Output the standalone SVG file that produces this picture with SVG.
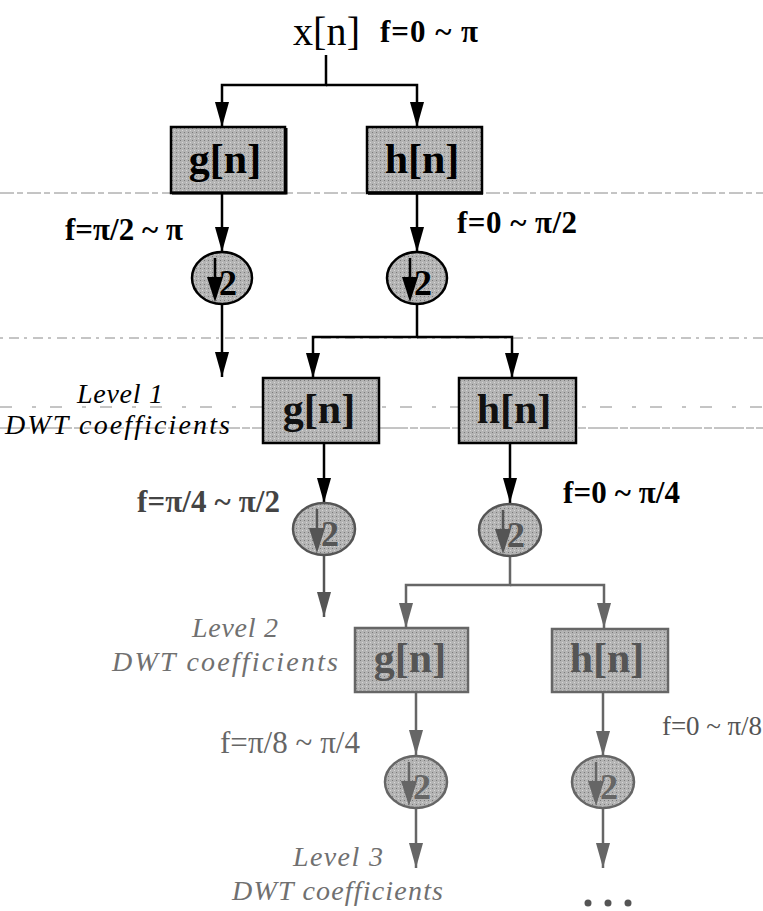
<svg xmlns="http://www.w3.org/2000/svg" width="763" height="911" viewBox="0 0 763 911">
<style>
  .lbl{font-family:"Liberation Serif","Times New Roman",serif;font-size:31px}
  .b{font-weight:bold}
  .it{font-family:"Liberation Serif","Times New Roman",serif;font-style:italic;font-size:28px}
  .boxt{font-family:"Liberation Serif","Times New Roman",serif;font-weight:bold;font-size:42px;text-anchor:middle}
  .two{font-family:"Liberation Serif","Times New Roman",serif;font-weight:bold;font-size:36px}
  .conn{fill:none;stroke-width:2.5}
  .scan{stroke:#8a8a8a;stroke-width:1;fill:none}
</style>
<defs>
  <pattern id="dots" width="4" height="4" patternUnits="userSpaceOnUse">
    <rect width="4" height="4" fill="#b4b4b4"/>
    <rect width="1" height="1" fill="#7a7a7a"/>
    <rect x="2" y="2" width="1" height="1" fill="#d6d6d6"/>
  </pattern>
  <marker id="ah0" viewBox="0 0 25 14" refX="25" refY="7" markerWidth="25" markerHeight="14" markerUnits="userSpaceOnUse" orient="auto">
    <path d="M0,0 L25,7 L0,14 z" fill="#000"/>
  </marker>
  <marker id="ah1" viewBox="0 0 25 14" refX="25" refY="7" markerWidth="25" markerHeight="14" markerUnits="userSpaceOnUse" orient="auto">
    <path d="M0,0 L25,7 L0,14 z" fill="#555"/>
  </marker>
  <marker id="ah2" viewBox="0 0 25 14" refX="25" refY="7" markerWidth="25" markerHeight="14" markerUnits="userSpaceOnUse" orient="auto">
    <path d="M0,0 L25,7 L0,14 z" fill="#666"/>
  </marker>
</defs>
<rect width="763" height="911" fill="#fff"/>

<g id="scan-lines">
  <path class="scan" d="M0,193 H763" stroke-dasharray="14 3 6 4" stroke="#555"/>
  <path class="scan" d="M0,338 H763" stroke-dasharray="3 6 10 5" stroke="#999"/>
  <path class="scan" d="M0,407 H763" stroke-dasharray="12 20 4 14" stroke="#555"/>
  <path class="scan" d="M0,428 H763" stroke-dasharray="30 2 8 2" stroke="#444"/>
</g>

<g id="connectors">
  <path class="conn" stroke="#000" d="M326,55 V85 H222 V127" marker-end="url(#ah0)"/>
  <path class="conn" stroke="#000" d="M326,85 H417 V127" marker-end="url(#ah0)"/>
  <path class="conn" stroke="#000" d="M222,193 V252" marker-end="url(#ah0)"/>
  <path class="conn" stroke="#000" d="M417,193 V252" marker-end="url(#ah0)"/>
  <path class="conn" stroke="#000" d="M222,305 V377" marker-end="url(#ah0)"/>
  <path class="conn" stroke="#000" d="M417,305 V337 H313 V378" marker-end="url(#ah0)"/>
  <path class="conn" stroke="#000" d="M417,337 H512 V378" marker-end="url(#ah0)"/>
  <path class="conn" stroke="#000" d="M324,443 V503" marker-end="url(#ah0)"/>
  <path class="conn" stroke="#000" d="M510,443 V503" marker-end="url(#ah0)"/>
  <path class="conn" stroke="#555" d="M324,555 V617" marker-end="url(#ah1)"/>
  <path class="conn" stroke="#666" d="M510,557 V585 H406 V628" marker-end="url(#ah2)"/>
  <path class="conn" stroke="#666" d="M510,585 H604 V628" marker-end="url(#ah2)"/>
  <path class="conn" stroke="#666" d="M416,692 V755" marker-end="url(#ah2)"/>
  <path class="conn" stroke="#666" d="M603,692 V756" marker-end="url(#ah2)"/>
  <path class="conn" stroke="#666" d="M416,808 V868" marker-end="url(#ah2)"/>
  <path class="conn" stroke="#666" d="M603,808 V868" marker-end="url(#ah2)"/>
</g>

<g id="input">
  <text class="lbl" x="293" y="45" style="font-size:40px" textLength="67">x[n]</text>
  <text class="lbl b" x="380" y="42" textLength="98">f=0 ~ π</text>
</g>

<g id="g0">
  <rect x="171" y="127" width="114" height="66" fill="url(#dots)" stroke="#000" stroke-width="2.5"/>
  <path d="M172,193 H286 V128" fill="none" stroke="#000" stroke-width="3"/>
  <text class="boxt" x="225" y="173" fill="#000">g[n]</text>
</g>
<g id="h0">
  <rect x="367" y="127" width="115" height="66" fill="url(#dots)" stroke="#000" stroke-width="2.5"/>
  <path d="M368,193 H483" fill="none" stroke="#000" stroke-width="3.5"/>
  <text class="boxt" x="422" y="173" fill="#000">h[n]</text>
</g>

<g id="d0g">
  <ellipse cx="222" cy="278" rx="30" ry="26" fill="url(#dots)" stroke="#000" stroke-width="2.5"/>
  <line x1="215" y1="258" x2="215" y2="282" stroke="#000" stroke-width="2.5"/>
  <polygon points="207,277 223,277 215,302" fill="#000"/>
  <text class="two" x="219" y="295" fill="#000">2</text>
</g>
<g id="d0h">
  <ellipse cx="417" cy="278" rx="30" ry="26" fill="url(#dots)" stroke="#000" stroke-width="2.5"/>
  <line x1="410" y1="258" x2="410" y2="282" stroke="#000" stroke-width="2.5"/>
  <polygon points="402,277 418,277 410,302" fill="#000"/>
  <text class="two" x="414" y="295" fill="#000">2</text>
</g>

<g id="labels-1">
  <text class="lbl b" x="65" y="240" textLength="118">f=π/2 ~ π</text>
  <text class="lbl b" x="457" y="233" textLength="120">f=0 ~ π/2</text>
  <text class="it" x="77" y="403" textLength="86">Level 1</text>
  <text class="it" x="5" y="434" textLength="225">DWT coefficients</text>
</g>

<g id="g1">
  <rect x="263" y="378" width="116" height="65" fill="url(#dots)" stroke="#000" stroke-width="2.5"/>
  <text class="boxt" x="319" y="423" fill="#111">g[n]</text>
</g>
<g id="h1">
  <rect x="459" y="378" width="117" height="65" fill="url(#dots)" stroke="#000" stroke-width="2.5"/>
  <text class="boxt" x="514" y="423" fill="#111">h[n]</text>
</g>

<g id="d1g">
  <ellipse cx="324" cy="529" rx="31" ry="26" fill="url(#dots)" stroke="#555" stroke-width="2.5"/>
  <line x1="317" y1="509" x2="317" y2="533" stroke="#555" stroke-width="2.5"/>
  <polygon points="309,528 325,528 317,553" fill="#555"/>
  <text class="two" x="321" y="546" fill="#555">2</text>
</g>
<g id="d1h">
  <ellipse cx="510" cy="530" rx="31" ry="26" fill="url(#dots)" stroke="#555" stroke-width="2.5"/>
  <line x1="503" y1="510" x2="503" y2="534" stroke="#555" stroke-width="2.5"/>
  <polygon points="495,529 511,529 503,554" fill="#555"/>
  <text class="two" x="507" y="547" fill="#555">2</text>
</g>

<g id="labels-2">
  <text class="lbl" x="137" y="512" textLength="143" fill="#444" font-weight="bold">f=π/4 ~ π/2</text>
  <text class="lbl b" x="563" y="503" textLength="117" fill="#000">f=0 ~ π/4</text>
  <text class="it" x="192" y="637" textLength="86" fill="#707070">Level 2</text>
  <text class="it" x="112" y="671" textLength="226" fill="#707070">DWT coefficients</text>
</g>

<g id="g2">
  <rect x="355" y="628" width="113" height="64" fill="url(#dots)" stroke="#666" stroke-width="2.5"/>
  <text class="boxt" x="410" y="672" fill="#555">g[n]</text>
</g>
<g id="h2">
  <rect x="552" y="629" width="116" height="63" fill="url(#dots)" stroke="#666" stroke-width="2.5"/>
  <text class="boxt" x="607" y="672" fill="#555">h[n]</text>
</g>

<g id="d2g">
  <ellipse cx="416" cy="782" rx="31" ry="26" fill="url(#dots)" stroke="#666" stroke-width="2.5"/>
  <line x1="409" y1="762" x2="409" y2="786" stroke="#666" stroke-width="2.5"/>
  <polygon points="401,781 417,781 409,806" fill="#666"/>
  <text class="two" x="413" y="799" fill="#666">2</text>
</g>
<g id="d2h">
  <ellipse cx="603" cy="782" rx="31" ry="26" fill="url(#dots)" stroke="#666" stroke-width="2.5"/>
  <line x1="596" y1="762" x2="596" y2="786" stroke="#666" stroke-width="2.5"/>
  <polygon points="588,781 604,781 596,806" fill="#666"/>
  <text class="two" x="600" y="799" fill="#666">2</text>
</g>

<g id="labels-3">
  <text class="lbl" x="220" y="753" textLength="140" fill="#666">f=π/8 ~ π/4</text>
  <text class="lbl" x="662" y="735" style="font-size:27px" textLength="100" fill="#555">f=0 ~ π/8</text>
  <text class="it" x="293" y="866" textLength="90" fill="#707070">Level 3</text>
  <text class="it" x="232" y="900" textLength="211" fill="#707070">DWT coefficients</text>
</g>

<g id="ellipsis" fill="#555">
  <circle cx="588" cy="903" r="3.5"/>
  <circle cx="608" cy="903" r="3.5"/>
  <circle cx="628" cy="903" r="3.5"/>
</g>
</svg>
